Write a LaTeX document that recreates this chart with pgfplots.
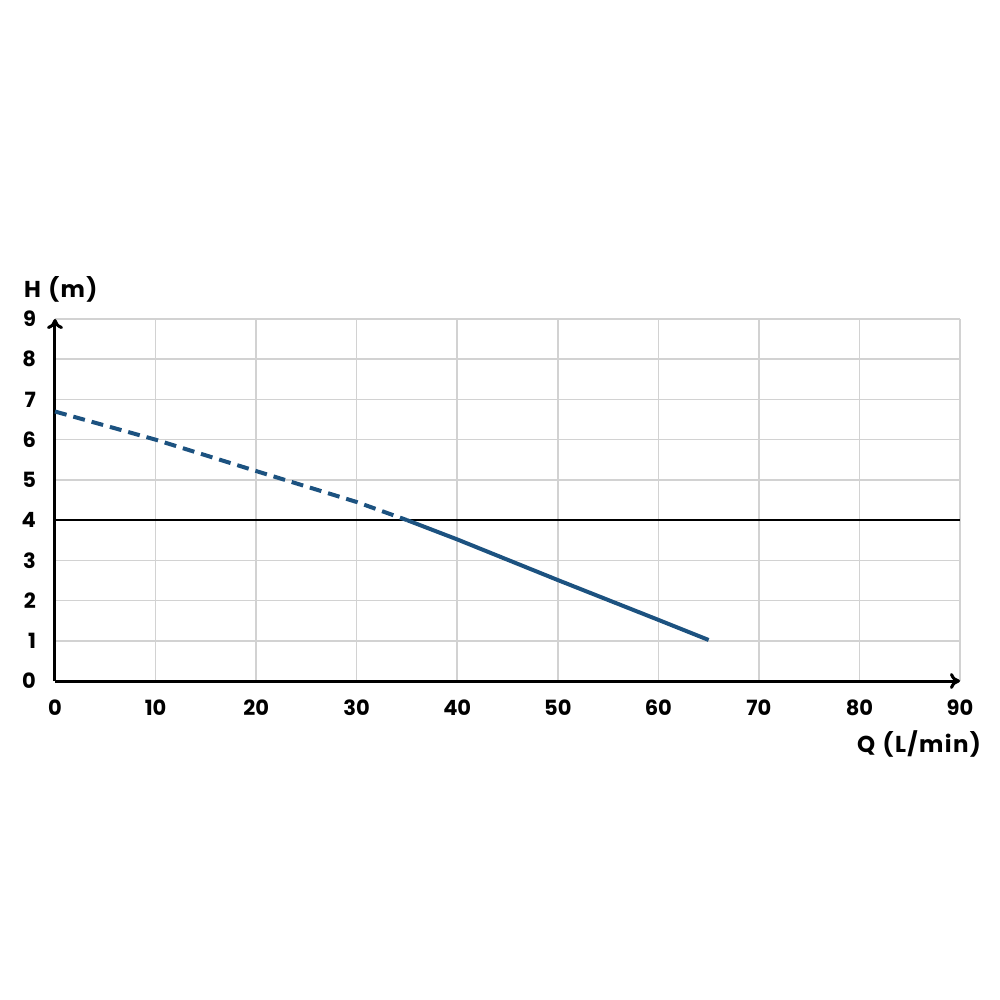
\documentclass[border=0pt]{standalone}
\usepackage{fontspec}
\setmainfont{Poppins}
\newfontfamily\lblfont{Poppins}[LetterSpace=6,WordSpace=1.2]
\usepackage{pgfplots}
\pgfplotsset{compat=1.18}
\usetikzlibrary{arrows.meta}
\definecolor{curveblue}{RGB}{28,82,128}
\begin{document}
\begin{tikzpicture}
\begin{axis}[
  scale only axis,
  width=452.5pt, height=181pt,
  xmin=0, xmax=90, ymin=0, ymax=9,
  xtick={0,10,...,90}, ytick={0,1,...,9},
  axis lines=left,
  axis line style={line width=1.5pt, black},
  x axis line style={-{To[length=5pt,width=8pt]}},
  y axis line style={-{To[length=5pt,width=8pt]}},
  grid=major,
  major grid style={gray!35, line width=0.75pt},
  major tick length=0pt,
  clip=false,
  /pgf/number format/assume math mode=true,
  tick label style={font=\fontsize{10.5}{12}\selectfont\bfseries},
  yticklabel style={xshift=-6pt},
  xticklabel style={yshift=-6pt},
  xlabel={Q (L/min)},
  ylabel={H (m)},
  label style={font=\lblfont\fontsize{11.5}{13}\selectfont\bfseries},
  xlabel style={at={(rel axis cs:1,0)}, anchor=east, xshift=14pt, yshift=-31.5pt},
  ylabel style={at={(rel axis cs:0,1)}, rotate=-90, anchor=west, xshift=-19pt, yshift=15pt},
]
\addplot[black, line width=1pt] coordinates {(0,4) (90,4)};
\addplot[curveblue, line width=2pt, dash pattern=on 6pt off 3.5pt] coordinates {
  (0,6.7) (10,6.0) (20,5.22) (30,4.45) (35,4.0)};
\addplot[curveblue, line width=2pt] coordinates {
  (35,4.0) (40,3.52) (50,2.51) (60,1.52) (65,1.02)};
\coordinate (O) at (axis cs:0,0);
\end{axis}
\path (O) ++(-27.5pt,-159.5pt) rectangle ++(500pt,500pt);
\end{tikzpicture}
\end{document}
